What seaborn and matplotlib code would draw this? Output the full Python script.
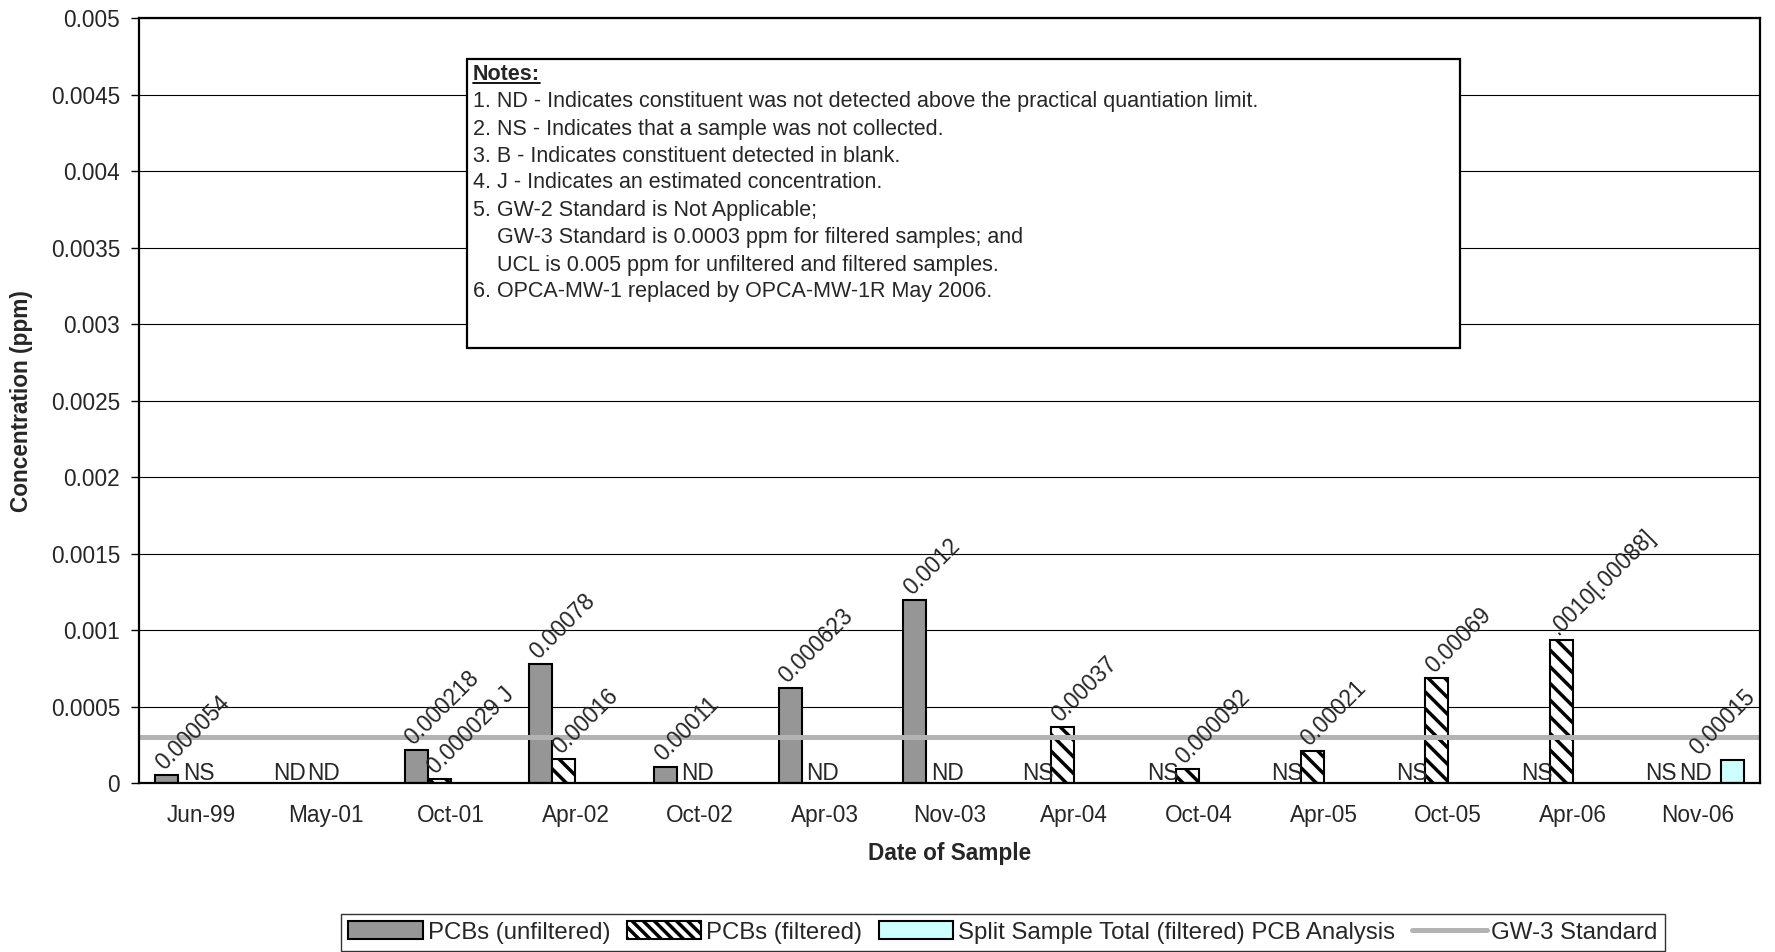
import numpy as np
import pandas as pd
import seaborn as sns
import matplotlib.pyplot as plt
from matplotlib.patches import Patch, Rectangle
from matplotlib.lines import Line2D

dates = ['Jun-99', 'May-01', 'Oct-01', 'Apr-02', 'Oct-02', 'Apr-03', 'Nov-03',
         'Apr-04', 'Oct-04', 'Apr-05', 'Oct-05', 'Apr-06', 'Nov-06']

# NaN = ND / NS (no bar)
unfiltered = [0.000054, np.nan, 0.000218, 0.00078, 0.00011, 0.000623, 0.0012,
              np.nan, np.nan, np.nan, np.nan, np.nan, np.nan]
unfiltered_labels = ['0.000054', 'ND', '0.000218', '0.00078', '0.00011', '0.000623', '0.0012',
                     'NS', 'NS', 'NS', 'NS', 'NS', 'NS']
filtered = [np.nan, np.nan, 0.000029, 0.00016, np.nan, np.nan, np.nan,
            0.00037, 0.000092, 0.00021, 0.00069, 0.00094, np.nan]
filtered_labels = ['NS', 'ND', '0.000029 J', '0.00016', 'ND', 'ND', 'ND',
                   '0.00037', '0.000092', '0.00021', '0.00069', '.0010[.00088]', 'ND']
split_unfiltered = [np.nan, np.nan, np.nan, np.nan, np.nan, np.nan, np.nan,
                    np.nan, np.nan, np.nan, np.nan, np.nan, np.nan]
split_filtered = [np.nan, np.nan, np.nan, np.nan, np.nan, np.nan, np.nan,
                  np.nan, np.nan, np.nan, np.nan, np.nan, 0.00015]
split_labels = ['', '', '', '', '', '', '', '', '', '', '', '', '0.00015']
gw3_standard = 0.0003

series_names = ['PCBs (unfiltered)', 'PCBs (filtered)',
                'Split Sample Total (unfiltered) PCB Analysis',
                'Split Sample Total (filtered) PCB Analysis']
series_colors = ['#969696', 'white', 'white', '#CCFFFF']

notes_title = 'Notes:'
notes_lines = [
    '1. ND - Indicates constituent was not detected above the practical quantiation limit.',
    '2. NS - Indicates that a sample was not collected.',
    '3. B - Indicates constituent detected in blank.',
    '4. J - Indicates an estimated concentration.',
    '5. GW-2 Standard is Not Applicable;',
    'GW-3 Standard is 0.0003 ppm for filtered samples; and',
    'UCL is 0.005 ppm for unfiltered and filtered samples.',
    '6. OPCA-MW-1 replaced by OPCA-MW-1R May 2006.',
]

rows = []
for name, vals in zip(series_names, [unfiltered, filtered, split_unfiltered, split_filtered]):
    for d, v in zip(dates, vals):
        rows.append({'Date': d, 'Series': name, 'Value': 0.0 if np.isnan(v) else v})
df = pd.DataFrame(rows)

sns.set_style('white')
plt.rcParams['font.family'] = ['Liberation Sans', 'DejaVu Sans']
plt.rcParams['hatch.linewidth'] = 2.5
FS = 16.3
W, H = 1775, 952

fig = plt.figure(figsize=(W / 100, H / 100), dpi=100)
ax = fig.add_axes([139 / W, 1 - 783.4 / H, (1760 - 139) / W, (783.4 - 18) / H])

sns.barplot(data=df, x='Date', y='Value', hue='Series', order=dates, hue_order=series_names,
            palette=dict(zip(series_names, series_colors)), width=0.74, gap=0,
            saturation=1, edgecolor='black', linewidth=1.5, errorbar=None,
            legend=False, ax=ax, zorder=3)

for i, container in enumerate(ax.containers):
    for bar in container.patches:
        if bar.get_height() == 0:
            bar.set_linewidth(0)
            bar.set_facecolor('none')
        elif i == 1:
            bar.set_hatch('\\\\')

ax.axhline(gw3_standard, color='#B3B3B3', lw=3.6, zorder=4)

# data labels
label_sets = [unfiltered_labels, filtered_labels, None, split_labels]
slot_shift = [-0.015, 0.075, 0.0, 0.0]
value_notes = []
for i, (container, labels) in enumerate(zip(ax.containers, label_sets)):
    if labels is None:
        continue
    bars = sorted(container.patches, key=lambda b: b.get_x())
    for bar, text in zip(bars, labels):
        if not text:
            continue
        xc = bar.get_x() + bar.get_width() / 2
        h = bar.get_height()
        if h > 0:
            a = ax.annotate(text, (xc, h), xytext=(-2, 3), textcoords='offset points',
                            rotation=45, rotation_mode='anchor', ha='left', va='baseline',
                            fontsize=FS, zorder=5, annotation_clip=False)
            value_notes.append(a)
        else:
            ax.annotate(text, (xc + slot_shift[i], 0), xytext=(0, 2.5), textcoords='offset points',
                        ha='center', va='baseline', fontsize=FS, zorder=5)

ax.set_xlim(-0.5, len(dates) - 0.5)
ax.set_ylim(0, 0.005)
yt = np.arange(0, 0.00501, 0.0005)
ax.set_yticks(yt)
ax.set_yticklabels([f'{v:g}' for v in yt])
ax.set_xticks(range(len(dates)))
ax.set_xticklabels(dates)
ax.set_xticks(np.arange(-0.5, len(dates), 1.0), minor=True)
ax.tick_params(axis='x', which='major', length=0, pad=15, labelsize=FS)
ax.tick_params(axis='x', which='minor', length=5.5, width=1, color='black', direction='out')
ax.tick_params(axis='y', length=5.5, width=1, color='black', direction='out', pad=8, labelsize=FS, left=True)
ax.yaxis.grid(True, color='black', lw=0.8)
ax.xaxis.grid(False)
ax.set_axisbelow(True)
for s in ax.spines.values():
    s.set_color('black')
    s.set_linewidth(1.6)
    s.set_zorder(6)

ax.set_ylabel('Concentration (ppm)', fontsize=FS, fontweight='bold', va='center')
ax.yaxis.set_label_coords((21 - 139) / (1760 - 139), 0.5)
ax.set_xlabel('Date of Sample', fontsize=FS, fontweight='bold', va='center')
ax.xaxis.set_label_coords(0.5, -(853.5 - 783.4) / (783.4 - 18))

# notes box
def fx(x):
    return x / W

def fy(y):
    return 1 - y / H

fig.add_artist(Rectangle((fx(467.5), fy(347.5)), fx(1460) - fx(467.5), fy(59) - fy(347.5),
                         transform=fig.transFigure, facecolor='white', edgecolor='black',
                         lw=1.6, zorder=10))
title = fig.text(fx(473), fy(74.5), notes_title, fontsize=15.5, fontweight='bold',
                 va='center', ha='left', zorder=11)
line_y = [102, 129, 156, 183, 210.5, 237.7, 265, 292]
for txt, y in zip(notes_lines, line_y):
    x = 473 if txt[0].isdigit() else 497
    fig.text(fx(x), fy(y), txt, fontsize=15.5, va='center', ha='left', zorder=11)

fig.canvas.draw()
bb = title.get_window_extent()
fig.add_artist(Line2D([bb.x0 / W, bb.x1 / W], [(bb.y0 + 2) / H, (bb.y0 + 2) / H],
                      transform=fig.transFigure, color='black', lw=1.3, zorder=11))

# pull labels that run past the right edge back inside
right_edge = ax.get_window_extent().x1
for a in value_notes:
    ext = a.get_window_extent()
    if ext.x1 > right_edge:
        dx, dy = a.xyann
        a.xyann = (dx - (ext.x1 - right_edge) * 72 / 100, dy)

# legend
handles = [
    Patch(facecolor='#969696', edgecolor='black', lw=1.5),
    Patch(facecolor='white', edgecolor='black', hatch='\\\\\\', lw=1.5),
    Patch(facecolor='#CCFFFF', edgecolor='black', lw=1.5),
    Line2D([], [], color='#B3B3B3', lw=3.6),
]
leg_labels = [series_names[0], series_names[1], series_names[3], 'GW-3 Standard']
leg = fig.legend(handles, leg_labels, loc='center', bbox_to_anchor=(fx(1003), fy(932.5)),
                 ncol=4, frameon=True, fancybox=False, edgecolor='black', fontsize=17.3,
                 handlelength=3.1, handleheight=0.75, columnspacing=0.7, handletextpad=0.2,
                 borderpad=0.3, borderaxespad=0)
leg.get_frame().set_linewidth(1.0)

fig.savefig('out.png', dpi=100)
